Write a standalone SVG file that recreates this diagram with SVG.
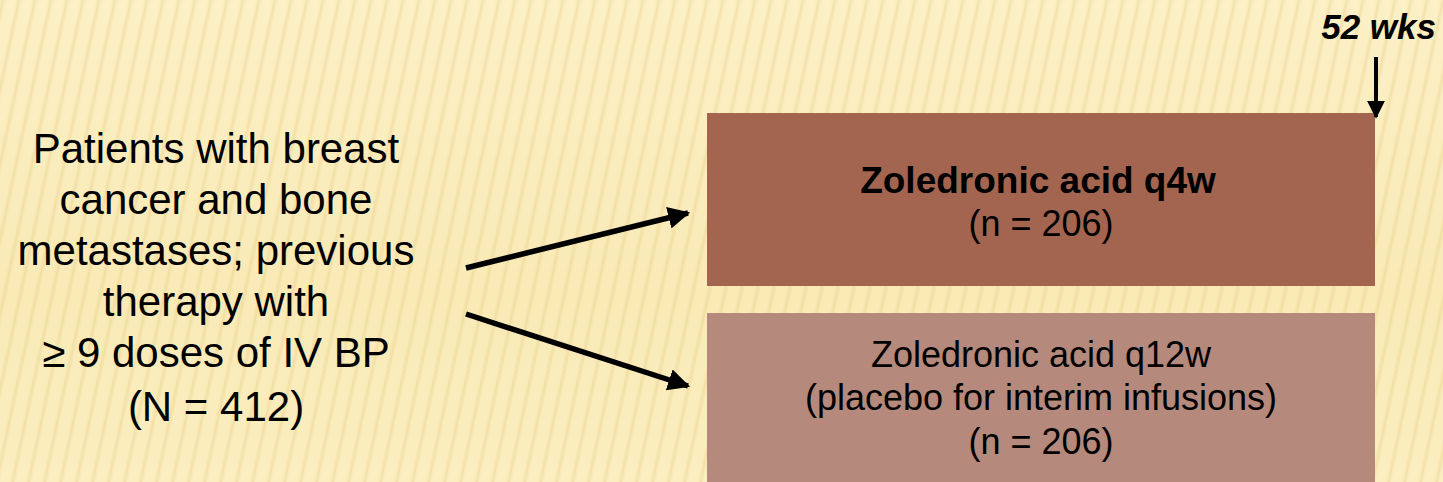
<svg xmlns="http://www.w3.org/2000/svg" width="1443" height="482" viewBox="0 0 1443 482">
  <defs>
    <!-- soft slanted stripes for the paper texture -->
    <linearGradient id="stripeShade" x1="0" y1="0" x2="1" y2="0">
      <stop offset="0" stop-color="#e9cf8a" stop-opacity="0"/>
      <stop offset="0.5" stop-color="#e9cf8a" stop-opacity="0.45"/>
      <stop offset="1" stop-color="#e9cf8a" stop-opacity="0"/>
    </linearGradient>
    <pattern id="stripes" width="16" height="40" patternUnits="userSpaceOnUse" patternTransform="skewX(-12)">
      <rect x="0" y="0" width="6" height="40" fill="url(#stripeShade)"/>
    </pattern>
    <linearGradient id="paper" x1="0" y1="0" x2="0" y2="1">
      <stop offset="0" stop-color="#fcf0c6"/>
      <stop offset="0.6" stop-color="#f9eab6"/>
      <stop offset="1" stop-color="#fbeec0"/>
    </linearGradient>
    <marker id="head" viewBox="0 0 10 10" refX="9" refY="5" markerWidth="4" markerHeight="4" orient="auto" markerUnits="strokeWidth">
      <path d="M0,0 L10,5 L0,10 Z" fill="#000"/>
    </marker>
    <marker id="headDown" viewBox="0 0 10 10" refX="9" refY="5" markerWidth="4.5" markerHeight="4.5" orient="auto" markerUnits="strokeWidth">
      <path d="M0,0 L10,5 L0,10 Z" fill="#000"/>
    </marker>
  </defs>
  <style>
    .txt { font-family: "Liberation Sans", Arial, sans-serif; fill: #000; text-anchor: middle; }
    .big { font-size: 42px; }
    .box { font-size: 36px; }
    .bold { font-weight: bold; }
    .conn { stroke: #000; fill: none; }
  </style>

  <!-- background -->
  <rect x="0" y="0" width="1443" height="482" fill="url(#paper)"/>
  <rect x="0" y="0" width="1443" height="482" fill="url(#stripes)"/>

  <!-- timeline label -->
  <g id="timepoint">
    <text class="txt bold" x="1436" y="39" font-size="35" font-style="italic" style="text-anchor:end">52 wks</text>
  </g>

  <!-- population -->
  <g id="population">
    <text class="txt big" x="216" y="163">Patients with breast</text>
    <text class="txt big" x="216" y="214">cancer and bone</text>
    <text class="txt big" x="216" y="265">metastases; previous</text>
    <text class="txt big" x="216" y="316">therapy with</text>
    <text class="txt big" x="216" y="367">≥ 9 doses of IV BP</text>
    <text class="txt big" x="216" y="421">(N = 412)</text>
  </g>

  <!-- arm 1 -->
  <g id="arm-q4w">
    <rect x="707" y="113" width="668" height="173" fill="#a46550"/>
    <text class="txt bold" x="1038" y="193" font-size="37">Zoledronic acid q4w</text>
    <text class="txt box" x="1041" y="236">(n = 206)</text>
  </g>

  <!-- arm 2 -->
  <g id="arm-q12w">
    <rect x="707" y="313" width="668" height="175" fill="#b5897c"/>
    <text class="txt box" x="1041" y="367">Zoledronic acid q12w</text>
    <text class="txt box" x="1041" y="410">(placebo for interim infusions)</text>
    <text class="txt box" x="1041" y="454">(n = 206)</text>
  </g>

  <!-- connectors -->
  <g id="connectors">
    <line class="conn" x1="466" y1="268" x2="688" y2="213" stroke-width="5.5" marker-end="url(#head)"/>
    <line class="conn" x1="466" y1="314" x2="688" y2="386" stroke-width="5.5" marker-end="url(#head)"/>
    <line class="conn" x1="1376" y1="57" x2="1376" y2="117" stroke-width="4" marker-end="url(#headDown)"/>
  </g>
</svg>
